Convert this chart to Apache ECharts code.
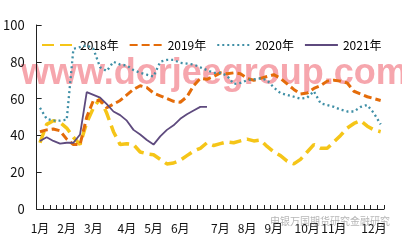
<!DOCTYPE html>
<html>
<head>
<meta charset="utf-8">
<script src="https://cdn.jsdelivr.net/npm/echarts@6/dist/echarts.min.js"></script>
<style>html,body{margin:0;padding:0;background:#fff}#c{width:402px;height:241px}</style>
</head>
<body>
<div id="c"></div>
<script>
// weekly categories (52 weeks)
var weeks = Array.from({length: 52}, function (_, i) { return 'W' + (i + 1); });
// month tick labels and the week index where each appears
var monthLabels = ['1月','2月','3月','4月','5月','6月','7月','8月','9月','10月','11月','12月'];
var monthWeekIdx = [0, 4, 8, 13, 17, 21, 27, 31, 35, 40, 44, 50];

var s2018 = [36,46,48,47,44,39,35,47,55,60,52,42,35,35.5,35,31,30,29.5,27,24.5,25,26.5,29,31.5,33,36,34.5,35.5,36.5,36,37,38,37,37.5,34,31,29,26,24.5,27,31,35,33,33,36.5,40,44,46.5,48,45,43,42];
var s2019 = [42,43,43.5,42.5,38,35,35,50,59,59,55,57,59,62,65,67,66,63,61.5,60,58.5,58,61,67,71,70.5,72,74,73.5,74,73.5,71,70,71,72,73,71,68,65,62.5,63,65.5,67,69.5,70,69.5,68.5,64,62.5,61,60,59];
var s2020 = [55,49,48,48,48.5,87,88,89,87,77,75,80,78.5,78,75.5,74,73,72,80,81,81,79.5,79,78.5,77,75.5,74,74,72.5,68,68.5,70,70.5,71,70,66,63,62,61,60,60.5,64,57.5,56.5,55.5,54,53,53,55.5,56.5,52,46];
var s2021 = [37,39,37,35.5,36,36,40.5,63.5,62,60.5,57,53,51,48,43,40.5,37.5,35,39.5,43,45.5,49,51.5,53.5,55.5,55.5];

var chart = echarts.init(document.getElementById('c'), null, {renderer: 'canvas'});
var font = '"Noto Sans CJK SC", "Noto Sans", sans-serif';
chart.setOption({
  animation: false,
  backgroundColor: '#fff',
  textStyle: {fontFamily: font},
  graphic: [
    {type: 'text', z: -10, left: 21, top: 56, style: {text: 'www.dorjeegroup.com', font: 'bold 36px "Liberation Sans", Arial, sans-serif', fill: '#F6A6AD'}},
    {type: 'text', z: 100, left: 270, top: 216, style: {text: '申银万国期货研究金融研究', font: '10px "Noto Sans CJK SC", sans-serif', fill: 'rgba(120,120,120,0.55)'}}
  ],
  legend: {
    top: 34, left: 36, itemWidth: 33, itemHeight: 8, itemGap: 10,
    itemStyle: {opacity: 0},
    textStyle: {fontSize: 12, color: '#000', fontFamily: font},
    data: ['2018年','2019年','2020年','2021年']
  },
  grid: {left: 35, right: 18, top: 25, bottom: 32, containLabel: false},
  xAxis: {
    type: 'category', data: weeks, boundaryGap: true,
    axisLine: {lineStyle: {color: '#222', width: 1}},
    axisTick: {show: true, inside: true, length: 4, interval: 0, lineStyle: {color: '#222'}},
    axisLabel: {
      interval: function (idx) { return monthWeekIdx.indexOf(idx) >= 0; },
      formatter: function (v, idx) { var k = monthWeekIdx.indexOf(idx); return k >= 0 ? monthLabels[k] : ''; },
      color: '#111', fontSize: 12, margin: 13, fontFamily: font
    },
    splitLine: {show: false}
  },
  yAxis: {
    type: 'value', min: 0, max: 100, interval: 20,
    axisLine: {show: true, lineStyle: {color: '#222', width: 1}},
    axisTick: {show: true, inside: true, length: 5, lineStyle: {color: '#222'}},
    axisLabel: {color: '#111', fontSize: 13, margin: 12, fontFamily: font},
    splitLine: {show: false}
  },
  series: [
    {name: '2018年', type: 'line', data: s2018, symbol: 'none', z: 3,
     lineStyle: {color: '#F5C518', width: 3.5, type: [12, 6]}, itemStyle: {color: '#F5C518'}},
    {name: '2019年', type: 'line', data: s2019, symbol: 'none', z: 4,
     lineStyle: {color: '#E46C0A', width: 3, type: [8, 4]}, itemStyle: {color: '#E46C0A'}},
    {name: '2020年', type: 'line', data: s2020, symbol: 'none', z: 5,
     lineStyle: {color: '#3F8FA6', width: 2.3, type: [2, 3]}, itemStyle: {color: '#3F8FA6'}},
    {name: '2021年', type: 'line', data: s2021, symbol: 'none', z: 6,
     lineStyle: {color: '#5E4A7E', width: 1.8, type: 'solid'}, itemStyle: {color: '#5E4A7E'}}
  ]
});
</script>
</body>
</html>
